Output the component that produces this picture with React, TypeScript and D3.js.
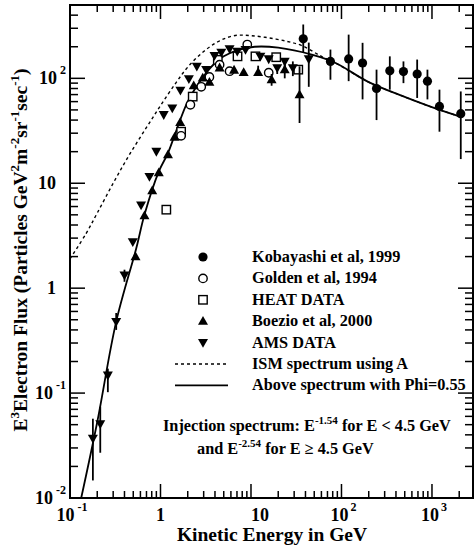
import React from "react";
import * as d3 from "d3";

// Kobayashi et al, 1999 (filled circles)
const kobE = [37.8, 75.5, 120, 171, 244, 342, 484, 686, 891, 1210, 2080];
const kobF = [238, 145, 153, 140, 80, 118, 116, 110, 94, 54, 46];
const kobLo = [176, 97, 94, 63, 40, 78, 90, 65, 63, 31, 17];
const kobHi = [326, 188, 261, 218, 121, 162, 145, 151, 121, 78, 75];

// Golden et al, 1994 (open circles)
const goldenE = [1.69, 2.14, 2.82, 3.47, 4.5, 5.8, 9.1, 15.7];
const goldenF = [28.3, 56, 83, 103, 135, 117, 210, 113];

// HEAT data (open squares)
const heatE = [1.16, 1.69, 2.27, 4.3, 7.1, 11.2, 19, 33.3];
const heatF = [5.6, 31, 67, 150, 162, 162, 159, 121];

// Boezio et al, 2000 (up triangles)
const boezioE = [0.53, 0.665, 0.81, 0.957, 1.21, 1.43, 1.65, 2.33, 2.93, 3.47, 4.5, 6.5, 8.3, 12.0, 16.9, 23.6, 34.4];
const boezioF = [2.0, 4.9, 8.5, 12.6, 18.7, 27.5, 38, 85, 101, 92, 126, 120, 114, 114, 97, 121, 70];
const boezioLo = [null, null, null, null, null, null, null, null, null, null, null, null, null, null, 85, 100, 37.5];
const boezioHi = [null, null, null, null, null, null, null, null, null, null, null, null, null, 132, 110, 140, 130];

// AMS data (down triangles)
const amsE = [0.179, 0.216, 0.262, 0.324, 0.40, 0.494, 0.61, 0.755, 0.90, 1.086, 1.35, 1.66, 2.06, 2.52, 3.2, 3.95, 4.7, 5.8, 7.05, 8.7, 12.7, 15.7, 19.5, 23.6, 29, 43.5];
const amsF = [0.037, 0.051, 0.148, 0.48, 1.33, 2.77, 6.2, 11.6, 20.1, 45, 52, 77, 99, 130, 121, 165, 177, 191, 181, 188, 162, 153, 126, 145, 126, 153];
const amsLo = [0.0147, 0.027, 0.102, 0.40, 1.15, null, null, null, null, null, null, null, null, null, null, null, null, null, null, null, null, null, 110, 120, 105, 83];
const amsHi = [0.057, 0.074, 0.171, 0.58, 1.5, null, null, null, null, null, null, null, null, null, null, null, null, null, null, null, null, null, null, null, 145, 219];

// ISM spectrum (dashed)
const ismE = [0.1, 0.15, 0.2, 0.3, 0.45, 0.7, 1.0, 1.5, 2.0, 3.0, 4.5, 6.7, 10, 15.7, 25, 36.6, 60, 86, 200, 468, 1070, 2080];
const ismF = [1.9, 3.3, 5.2, 10, 18.5, 34, 55, 92, 128, 180, 228, 256, 255, 243, 225, 205, 162, 140, 92, 68, 52, 43];

// Modulated spectrum, Phi=0.55 (solid)
const modE = [0.133, 0.2, 0.324, 0.54, 0.665, 0.957, 1.21, 1.5, 2.0, 3.0, 4.0, 5.0, 7.0, 11, 20, 47, 86, 200, 468, 1070, 2080];
const modF = [0.01, 0.053, 0.48, 2.4, 5.0, 12.9, 19.4, 32, 60, 105, 140, 162, 185, 200, 196, 168, 140, 92, 68, 52, 43];

const xMajor = [0.1, 1, 10, 100, 1000];
const xLabelBase = ["10", "1", "10", "10", "10"];
const xLabelExp = ["-1", "", "", "2", "3"];
const yMajor = [0.01, 0.1, 1, 10, 100];
const yLabelBase = ["10", "10", "1", "10", "10"];
const yLabelExp = ["-2", "-1", "", "", "2"];

const legendNames = [
  "Kobayashi et al, 1999",
  "Golden et al, 1994",
  "HEAT DATA",
  "Boezio et al, 2000",
  "AMS DATA",
  "ISM spectrum using A",
  "Above spectrum with Phi=0.55",
];

const W = 476;
const H = 551;
const left = 70, right = 473, top = 5, bottom = 498;
const font = "'Liberation Serif', 'Times New Roman', serif";

const x = d3.scaleLog().domain([0.1, 2840]).range([left, right]);
const y = d3.scaleLog().domain([0.01, 500]).range([bottom, top]);

function minorTicks(lo: number, hi: number) {
  const out: number[] = [];
  for (let d = lo; d < hi; d *= 10) {
    for (let k = 2; k <= 9; k++) {
      const v = d * k;
      if (v < hi) out.push(v);
    }
  }
  return out;
}

function Marker({ kind, cx, cy }: { kind: string; cx: number; cy: number }) {
  if (kind === "fcircle") return <circle cx={cx} cy={cy} r={4.6} fill="#000" />;
  if (kind === "ocircle") return <circle cx={cx} cy={cy} r={4.2} fill="#fff" stroke="#000" strokeWidth={1.4} />;
  if (kind === "square") return <rect x={cx - 4.2} y={cy - 4.2} width={8.4} height={8.4} fill="#fff" stroke="#000" strokeWidth={1.4} />;
  if (kind === "up") return <path d={`M${cx},${cy - 5.2}L${cx + 5},${cy + 3.6}L${cx - 5},${cy + 3.6}Z`} fill="#000" />;
  return <path d={`M${cx},${cy + 5.2}L${cx + 5},${cy - 3.6}L${cx - 5},${cy - 3.6}Z`} fill="#000" />;
}

function Series({ E, F, lo, hi, kind }: { E: number[]; F: number[]; lo?: (number | null)[]; hi?: (number | null)[]; kind: string }) {
  return (
    <g>
      {E.map((e, i) => {
        const l = lo && lo[i] != null ? (lo[i] as number) : F[i];
        const h = hi && hi[i] != null ? (hi[i] as number) : F[i];
        if (l === h) return null;
        return <line key={"e" + i} x1={x(e)} x2={x(e)} y1={y(Math.max(l, 0.0101))} y2={y(h)} stroke="#000" strokeWidth={1.8} />;
      })}
      {E.map((e, i) => (
        <Marker key={i} kind={kind} cx={x(e)} cy={y(F[i])} />
      ))}
    </g>
  );
}

export default function App() {
  const line = d3
    .line<[number, number]>()
    .x((d) => x(d[0]))
    .y((d) => y(d[1]))
    .curve(d3.curveCatmullRom.alpha(0.5));

  const ismPath = line(ismE.map((e, i) => [e, ismF[i]]));
  const modPath = line(modE.map((e, i) => [e, modF[i]]));

  const xMinor = minorTicks(0.1, 2840);
  const yMinor = minorTicks(0.01, 500);

  const legX = 203;
  const legTextX = 252;
  const legY0 = 257;
  const legDy = 21.4;
  const kinds = ["fcircle", "ocircle", "square", "up", "down"];

  return (
    <svg width={W} height={H} style={{ position: "absolute", left: 0, top: 0, background: "#fff" }} fontFamily={font} fontWeight="bold">
      <rect width={W} height={H} fill="#fff" />
      <defs>
        <clipPath id="plot">
          <rect x={left} y={top} width={right - left} height={bottom - top} />
        </clipPath>
      </defs>

      {/* ticks */}
      <g stroke="#000" strokeWidth={1.5}>
        {xMajor.map((v) => (
          <g key={"xM" + v}>
            <line x1={x(v)} x2={x(v)} y1={bottom} y2={bottom - 14} />
            <line x1={x(v)} x2={x(v)} y1={top} y2={top + 14} />
          </g>
        ))}
        {xMinor.map((v) => (
          <g key={"xm" + v}>
            <line x1={x(v)} x2={x(v)} y1={bottom} y2={bottom - 7} />
            <line x1={x(v)} x2={x(v)} y1={top} y2={top + 7} />
          </g>
        ))}
        {yMajor.map((v) => (
          <g key={"yM" + v}>
            <line x1={left} x2={left + 15} y1={y(v)} y2={y(v)} />
            <line x1={right} x2={right - 15} y1={y(v)} y2={y(v)} />
          </g>
        ))}
        {yMinor.map((v) => (
          <g key={"ym" + v}>
            <line x1={left} x2={left + 8} y1={y(v)} y2={y(v)} />
            <line x1={right} x2={right - 8} y1={y(v)} y2={y(v)} />
          </g>
        ))}
      </g>

      {/* curves */}
      <g clipPath="url(#plot)" fill="none" stroke="#000">
        <path d={ismPath || ""} strokeWidth={1.4} strokeDasharray="3,3" />
        <path d={modPath || ""} strokeWidth={1.8} />
      </g>

      {/* data */}
      <g clipPath="url(#plot)">
        <Series E={heatE} F={heatF} kind="square" />
        <Series E={goldenE} F={goldenF} kind="ocircle" />
        <Series E={boezioE} F={boezioF} lo={boezioLo} hi={boezioHi} kind="up" />
        <Series E={amsE} F={amsF} lo={amsLo} hi={amsHi} kind="down" />
        <Series E={kobE} F={kobF} lo={kobLo} hi={kobHi} kind="fcircle" />
      </g>

      {/* frame */}
      <rect x={left} y={top} width={right - left} height={bottom - top} fill="none" stroke="#000" strokeWidth={2} />

      {/* x tick labels */}
      {xMajor.map((v, i) => {
        const plainTen = xLabelBase[i] === "10" && !xLabelExp[i];
        return (
          <text key={"xl" + v} x={plainTen ? x(v) : x(v) + (xLabelExp[i] ? 2 : 0)} y={521} fontSize={18} textAnchor={plainTen ? "start" : "middle"}>
            {xLabelBase[i]}
            {xLabelExp[i] && (
              <tspan dx={xLabelExp[i].length > 1 ? 3 : 2} dy={-10} fontSize={12}>
                {xLabelExp[i]}
              </tspan>
            )}
          </text>
        );
      })}

      {/* y tick labels */}
      {yMajor.map((v, i) => (
        <text key={"yl" + v} x={yLabelExp[i] ? 66 : 56} y={y(v) + 6} fontSize={18} textAnchor="end">
          {yLabelBase[i]}
          {yLabelExp[i] && (
            <tspan dx={3} dy={-10} fontSize={12}>
              {yLabelExp[i]}
            </tspan>
          )}
        </text>
      ))}

      {/* axis titles */}
      <text x={272} y={541} fontSize={19.5} textAnchor="middle">
        Kinetic Energy in GeV
      </text>
      <text transform="translate(27,250) rotate(-90)" fontSize={19.5} textAnchor="middle">
        E<tspan dy={-8} fontSize={13}>3</tspan>
        <tspan dy={8}>Electron Flux (Particles GeV</tspan>
        <tspan dy={-8} fontSize={13}>2</tspan>
        <tspan dy={8}>m</tspan>
        <tspan dy={-8} fontSize={13}>-2</tspan>
        <tspan dy={8}>sr</tspan>
        <tspan dy={-8} fontSize={13}>-1</tspan>
        <tspan dy={8}>sec</tspan>
        <tspan dy={-8} fontSize={13}>-1</tspan>
        <tspan dy={8}>)</tspan>
      </text>

      {/* legend */}
      {kinds.map((k, i) => (
        <Marker key={"lm" + k} kind={k} cx={legX} cy={legY0 + i * legDy} />
      ))}
      <line x1={175} x2={228} y1={legY0 + 5 * legDy} y2={legY0 + 5 * legDy} stroke="#000" strokeWidth={1.4} strokeDasharray="3,3" />
      <line x1={175} x2={228} y1={legY0 + 6 * legDy} y2={legY0 + 6 * legDy} stroke="#000" strokeWidth={1.8} />
      {legendNames.map((n, i) => (
        <text key={n} x={legTextX} y={legY0 + i * legDy + 5} fontSize={16.3}>
          {n}
        </text>
      ))}

      {/* annotation */}
      <text x={163} y={431} fontSize={16.3}>
        Injection spectrum: E<tspan dy={-7} fontSize={11}>-1.54</tspan>
        <tspan dy={7}> for E &lt; 4.5 GeV</tspan>
      </text>
      <text x={197} y={454} fontSize={16.3}>
        and E<tspan dy={-7} fontSize={11}>-2.54</tspan>
        <tspan dy={7}> for E ≥ 4.5 GeV</tspan>
      </text>
    </svg>
  );
}
